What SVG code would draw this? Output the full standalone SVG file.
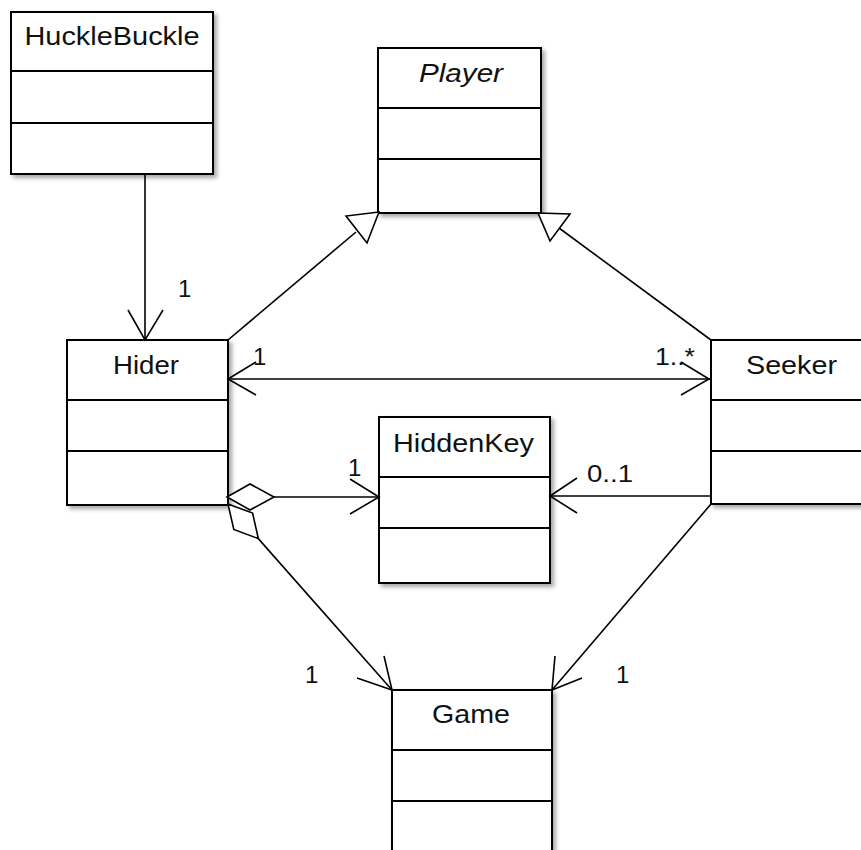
<svg xmlns="http://www.w3.org/2000/svg" width="861" height="850" viewBox="0 0 861 850">
  <defs>
    <filter id="shadow" x="-10%" y="-10%" width="130%" height="130%">
      <feGaussianBlur in="SourceAlpha" stdDeviation="2"/>
      <feOffset dx="3" dy="3" result="b"/>
      <feFlood flood-color="#000" flood-opacity="0.35"/>
      <feComposite in2="b" operator="in"/>
      <feMerge><feMergeNode/><feMergeNode in="SourceGraphic"/></feMerge>
    </filter>
  </defs>
  <style>
    .box { fill: #fff; stroke: #000; stroke-width: 2; filter: url(#shadow); }
    .div { stroke: #000; stroke-width: 2; }
    .name { font-family: "Liberation Sans", Arial, sans-serif; font-size: 26px; fill: #111; text-anchor: middle; }
    .abstract { font-style: italic; }
    .line { stroke: #000; stroke-width: 1.6; fill: none; }
    .head { stroke: #000; stroke-width: 1.6; fill: #fff; stroke-linejoin: miter; }
    .mult { font-family: "Liberation Sans", Arial, sans-serif; font-size: 24px; fill: #111; }
  </style>

  <rect width="861" height="850" fill="#fff"/>

  <!-- classes -->
  <g id="HuckleBuckle">
    <rect class="box" x="11" y="12" width="202" height="162"/>
    <line class="div" x1="11" y1="71" x2="213" y2="71"/>
    <line class="div" x1="11" y1="123" x2="213" y2="123"/>
    <text class="name" x="112" y="45" textLength="175" lengthAdjust="spacingAndGlyphs">HuckleBuckle</text>
  </g>

  <g id="Player">
    <rect class="box" x="378" y="48" width="163" height="165"/>
    <line class="div" x1="378" y1="108" x2="541" y2="108"/>
    <line class="div" x1="378" y1="159" x2="541" y2="159"/>
    <text class="name abstract" x="461" y="82" textLength="84" lengthAdjust="spacingAndGlyphs">Player</text>
  </g>

  <g id="Hider">
    <rect class="box" x="67" y="340" width="161" height="165"/>
    <line class="div" x1="67" y1="400" x2="228" y2="400"/>
    <line class="div" x1="67" y1="451" x2="228" y2="451"/>
    <text class="name" x="146" y="374" textLength="66" lengthAdjust="spacingAndGlyphs">Hider</text>
  </g>

  <g id="Seeker">
    <rect class="box" x="711" y="340" width="161" height="164"/>
    <line class="div" x1="711" y1="400" x2="872" y2="400"/>
    <line class="div" x1="711" y1="451" x2="872" y2="451"/>
    <text class="name" x="791.5" y="374" textLength="91" lengthAdjust="spacingAndGlyphs">Seeker</text>
  </g>

  <g id="HiddenKey">
    <rect class="box" x="379" y="417" width="171" height="166"/>
    <line class="div" x1="379" y1="477" x2="550" y2="477"/>
    <line class="div" x1="379" y1="528" x2="550" y2="528"/>
    <text class="name" x="463.5" y="452" textLength="141" lengthAdjust="spacingAndGlyphs">HiddenKey</text>
  </g>

  <g id="Game">
    <rect class="box" x="392" y="690" width="160" height="180"/>
    <line class="div" x1="392" y1="750" x2="552" y2="750"/>
    <line class="div" x1="392" y1="801" x2="552" y2="801"/>
    <text class="name" x="471" y="723" textLength="78" lengthAdjust="spacingAndGlyphs">Game</text>
  </g>

  <!-- relationships -->
  <g id="connectors">
    <!-- HuckleBuckle -> Hider -->
    <line class="line" x1="145" y1="174" x2="145" y2="340"/>
    <polyline class="line" points="128,310 145,340 163,310"/>

    <!-- Hider generalizes Player -->
    <line class="line" x1="228" y1="340" x2="356" y2="232"/>
    <polygon class="head" points="379,212 346,216 367,243"/>

    <!-- Seeker generalizes Player -->
    <line class="line" x1="711" y1="340" x2="559" y2="228"/>
    <polygon class="head" points="538,213 570,214 550,241"/>

    <!-- Hider <-> Seeker -->
    <line class="line" x1="228" y1="379" x2="711" y2="379"/>
    <polyline class="line" points="256,362 228,379 256,395"/>
    <polyline class="line" points="681,362 709,379 681,395"/>

    <!-- Hider aggregates HiddenKey -->
    <polygon class="head" points="227,497 250,484 274,497 250,510"/>
    <line class="line" x1="274" y1="497" x2="379" y2="497"/>
    <polyline class="line" points="350,479 379,497 350,514"/>

    <!-- Hider aggregates Game -->
    <polygon class="head" points="228,504 252.6,513.1 258.3,538.6 233.8,529.5"/>
    <line class="line" x1="258.3" y1="538.6" x2="392" y2="690"/>
    <polyline class="line" points="357,678 392,690 384,656"/>

    <!-- Seeker -> Game -->
    <line class="line" x1="711" y1="504" x2="552" y2="690"/>
    <polyline class="line" points="555,656 552,690 582,678"/>

    <!-- Seeker -> HiddenKey -->
    <line class="line" x1="711" y1="496" x2="550" y2="496"/>
    <polyline class="line" points="577,478 550,496 577,513"/>
  </g>

  <!-- multiplicities -->
  <g id="multiplicities">
    <text class="mult" x="178" y="297">1</text>
    <text class="mult" x="253" y="365">1</text>
    <text class="mult" x="655" y="365" textLength="40" lengthAdjust="spacingAndGlyphs">1..*</text>
    <text class="mult" x="348" y="476">1</text>
    <text class="mult" x="587" y="482" textLength="46" lengthAdjust="spacingAndGlyphs">0..1</text>
    <text class="mult" x="305" y="683">1</text>
    <text class="mult" x="616" y="683">1</text>
  </g>
</svg>
